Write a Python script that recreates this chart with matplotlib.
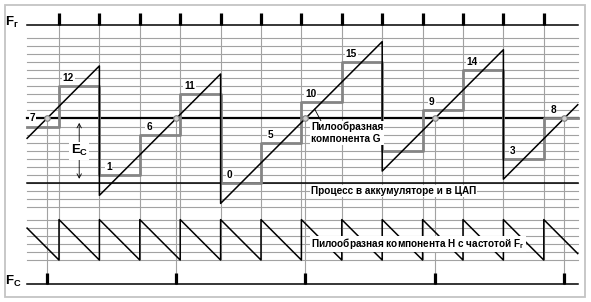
import numpy as np
import matplotlib
matplotlib.use('Agg')
import matplotlib.pyplot as plt
from matplotlib.patches import Rectangle, FancyArrowPatch

plt.rcParams['font.family'] = ['Liberation Sans', 'DejaVu Sans']
plt.rcParams['font.weight'] = 'bold'
plt.rcParams['mathtext.fontset'] = 'custom'
plt.rcParams['mathtext.rm'] = 'Liberation Sans:bold'
plt.rcParams['mathtext.it'] = 'Liberation Sans:bold'
plt.rcParams['mathtext.bf'] = 'Liberation Sans:bold'

# accumulator contents for clock intervals k = -1 .. 12
intervals = list(range(-1, 13))
acc_values = [7, 12, 1, 6, 11, 0, 5, 10, 15, 4, 9, 14, 3, 8]
step = 5              # phase increment per clock
center_level = 8      # half of accumulator capacity
h_offset = -7         # where sawtooth H is drawn
fr_ticks = list(range(0, 13))
t_start, t_end = -0.79, 12.84
grid_levels = list(range(-3, 19))
h_grid_levels = [-4.5, -5.5, -6.5, -7.5, -8.5, -9.5]
fr_level = 19.55
fc_level = -12.5

# pixel mapping (figure 591x302, axes fill the figure)
X0, T, Y0, S = 59.0, 40.4, 183.2, 8.09
W, H = 591, 302

fig = plt.figure(figsize=(W / 100, H / 100), dpi=100)
ax = fig.add_axes([0, 0, 1, 1])
ax.set_xlim(-X0 / T, (W - X0) / T)
ax.set_ylim((Y0 - H) / S, Y0 / S)
ax.axis('off')

fig.patches.append(Rectangle((5 / W, 1 - 297 / H), 580 / W, 292 / H,
                             transform=fig.transFigure, fill=False,
                             ec='#c4c4c4', lw=1.3))

gray = '#a2a2a2'
# horizontal grid
for L in grid_levels + h_grid_levels:
    ax.plot([t_start, t_end], [L, L], color=gray, lw=0.8, zorder=1)
ax.plot([t_start, t_end], [center_level] * 2, color='black', lw=1.6, zorder=3)
ax.plot([t_start, t_end], [0, 0], color='black', lw=1.1, zorder=3)

# Fr line and clock ticks
ax.plot([t_start, t_end], [fr_level] * 2, color='black', lw=1.1, zorder=3)
for k in fr_ticks:
    ax.plot([k, k], [fr_level, fr_level + 12 / S], color='black', lw=2.3,
            solid_capstyle='butt', zorder=3)
    ax.plot([k, k], [fr_level, h_grid_levels[-1]], color=gray, lw=0.8, zorder=2)

# staircase, ramp G and sawtooth H
st_t, st_v, g_t, g_v, h_t, h_v = [], [], [], [], [], []
crossings = []
for k, a in zip(intervals, acc_values):
    lo, hi = max(k, t_start), min(k + 1, t_end)
    st_t += [lo, hi]
    st_v += [a, a]
    for tt in (lo, hi):
        g = a + step * (tt - k - 0.5)
        g_t.append(tt)
        g_v.append(g)
        h_t.append(tt)
        h_v.append(h_offset + a - g)
    tc = k + 0.5 + (center_level - a) / step
    if lo <= tc <= hi:
        crossings.append(tc)

ax.plot(st_t, st_v, color='#858585', lw=2.0, zorder=4)
ax.plot(g_t, g_v, color='black', lw=1.1, zorder=5)
ax.plot(h_t, h_v, color='black', lw=1.1, zorder=5)

# Fc line, ticks at the centre crossings
ax.plot([t_start, t_end], [fc_level] * 2, color='black', lw=1.1, zorder=3)
for tc in crossings:
    ax.plot([tc, tc], [center_level, fc_level], color=gray, lw=0.8, zorder=2)
    ax.plot([tc, tc], [fc_level, fc_level + 11.5 / S], color='black', lw=2.3,
            solid_capstyle='butt', zorder=3)
ax.plot(crossings, [center_level] * len(crossings), 'o', ms=4, mfc='#d0d0d0',
        mec='#808080', mew=0.8, zorder=6)

box = dict(facecolor='white', edgecolor='none', pad=0.6)
for k, a in zip(intervals, acc_values):
    if a == 4:
        continue
    ax.text(max(k + 0.23, t_start + 0.13), a + 1, str(a), fontsize=7.3,
            ha='center', va='center', bbox=box, zorder=7)

# Ec arrow
ax.add_patch(FancyArrowPatch((0.5, center_level - 0.2), (0.5, 0.2),
                             arrowstyle='<->,head_length=3,head_width=1.6',
                             color='black', lw=0.6, zorder=5))
ax.text(0.5, 4, r'E$_\mathrm{C}$', fontsize=9.5, ha='center', va='center',
        bbox=dict(facecolor='white', edgecolor='none', pad=1), zorder=7)

ax.text(-1.33, fr_level - 0.1, r'F$_\mathrm{г}$', fontsize=9.5, ha='left', va='baseline')
ax.text(-1.33, fc_level - 0.05, r'F$_\mathrm{C}$', fontsize=9.5, ha='left', va='baseline')

# captions
tx = 6.24
g_lead = 6.33
ax.plot([g_lead, 6.5], [acc_values[7] + step * (g_lead - 6.5), 7.55],
        color='black', lw=0.6, zorder=6)
ax.text(tx, 6.2, 'Пилообразная\nкомпонента G', fontsize=7.2, ha='left',
        va='center', linespacing=1.25, bbox=box, zorder=7)
ax.text(tx, -1, 'Процесс в аккумуляторе и в ЦАП', fontsize=7.2, ha='left',
        va='center', bbox=box, zorder=7)
ax.text(tx, -7.5, r'Пилообразная компонента H с частотой F$_\mathrm{г}$',
        fontsize=7.2, ha='left', va='center', bbox=box, zorder=7)

fig.savefig('out.png', dpi=100)
